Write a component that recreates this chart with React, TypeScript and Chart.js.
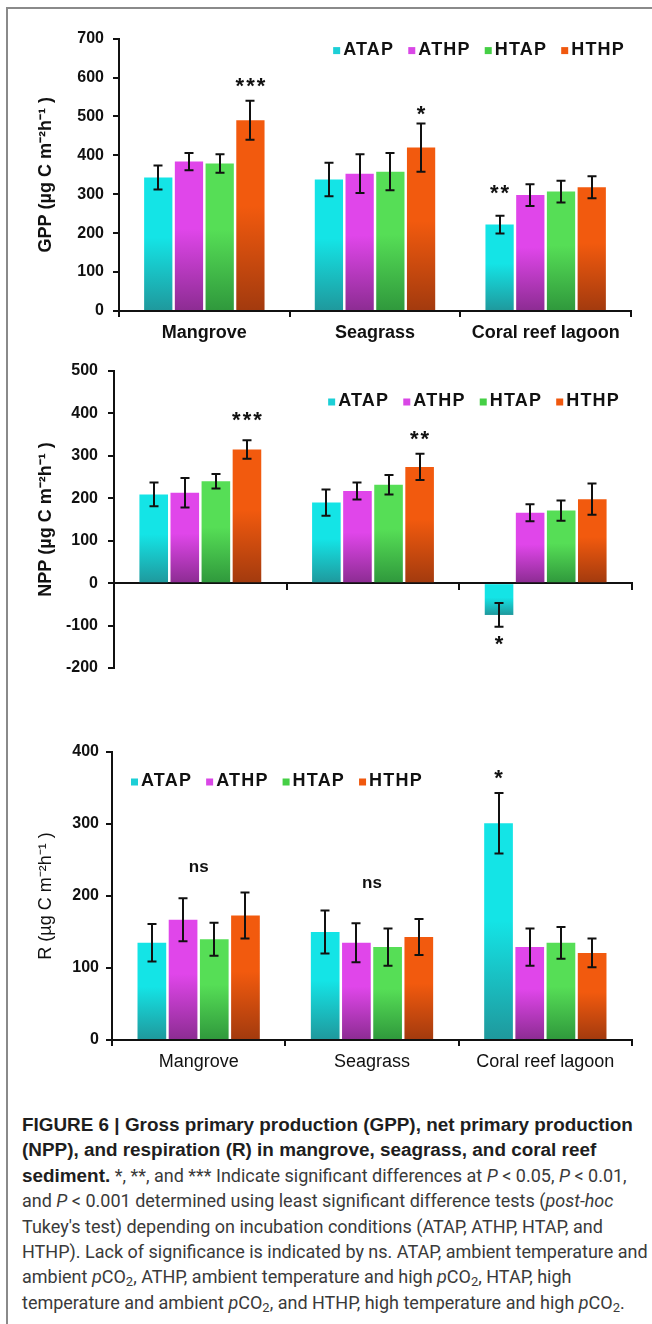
import React, { useEffect, useRef } from 'react';
import { Chart, registerables } from 'chart.js';

Chart.register(...registerables);

// ---------------- data ----------------
const categories = ['Mangrove', 'Seagrass', 'Coral reef lagoon'];
const seriesLabels = ['ATAP', 'ATHP', 'HTAP', 'HTHP'];

// GPP
const gppATAP = [343, 338, 222];
const gppATHP = [384, 353, 298];
const gppHTAP = [379, 358, 307];
const gppHTHP = [490, 420, 318];
const gppErrATAP = [31, 43, 23];
const gppErrATHP = [22, 50, 28];
const gppErrHTAP = [24, 48, 28];
const gppErrHTHP = [50, 62, 28];
const gppTicks = [0, 100, 200, 300, 400, 500, 600, 700];
const gppMarks = [
  { category: 0, series: 3, value: 593, text: '***' },
  { category: 1, series: 3, value: 521, text: '*' },
  { category: 2, series: 0, value: 319, text: '**' },
];

// NPP
const nppATAP = [209, 190, -75];
const nppATHP = [213, 217, 166];
const nppHTAP = [240, 232, 171];
const nppHTHP = [315, 274, 198];
const nppErrATAP = [28, 31, 28];
const nppErrATHP = [35, 20, 20];
const nppErrHTAP = [17, 23, 24];
const nppErrHTHP = [22, 31, 37];
const nppTicks = [-200, -100, 0, 100, 200, 300, 400, 500];
const nppMarks = [
  { category: 0, series: 3, value: 398, text: '***' },
  { category: 1, series: 3, value: 354, text: '**' },
  { category: 2, series: 0, value: -130, text: '*' },
];

// R
const rATAP = [135, 150, 301];
const rATHP = [167, 135, 129];
const rHTAP = [140, 129, 135];
const rHTHP = [173, 143, 121];
const rErrATAP = [26, 30, 42];
const rErrATHP = [30, 27, 26];
const rErrHTAP = [23, 26, 22];
const rErrHTHP = [32, 25, 20];
const rTicks = [0, 100, 200, 300, 400];
const rMarks = [
  { category: 0, series: null, value: 239, text: 'ns' },
  { category: 1, series: null, value: 217, text: 'ns' },
  { category: 2, series: 0, value: 372, text: '*' },
];

// ---------------- styles ----------------
const FONT = "'Liberation Sans', Arial, Helvetica, sans-serif";
const INK = '#111111';
const bright = ['#14e4e6', '#e046ea', '#56de56', '#f25a0e'];
const dark = ['#1f989c', '#8c2c92', '#2f983c', '#a23a0e'];
const swatch = ['#1ccfd6', '#d947e6', '#45cf45', '#f0580e'];

function barFill(i: number) {
  return (c: any) => {
    const chart = c.chart;
    const ys = chart.scales && chart.scales.y;
    if (!ys || c.type !== 'data' || !c.parsed) return bright[i];
    const p0 = ys.getPixelForValue(0);
    const p1 = ys.getPixelForValue(c.parsed.y);
    const top = Math.min(p0, p1);
    const bot = Math.max(p0, p1);
    if (!isFinite(top) || !isFinite(bot) || bot - top < 1) return bright[i];
    const g = chart.ctx.createLinearGradient(0, top, 0, bot);
    g.addColorStop(0, bright[i]);
    g.addColorStop(0.45, bright[i]);
    g.addColorStop(1, dark[i]);
    return g;
  };
}

// ---------------- plugins ----------------
const errorBarPlugin = {
  id: 'errorBars',
  afterDatasetsDraw(chart: any, _a: any, opts: any) {
    const { ctx } = chart;
    const ys = chart.scales.y;
    ctx.save();
    ctx.strokeStyle = opts.color;
    ctx.lineWidth = opts.width;
    chart.data.datasets.forEach((ds: any, di: number) => {
      const meta = chart.getDatasetMeta(di);
      meta.data.forEach((el: any, i: number) => {
        const v = ds.data[i];
        const e = ds.errors[i];
        const yHi = ys.getPixelForValue(v + e);
        const yLo = ys.getPixelForValue(v - e);
        const x = Math.round(el.x);
        ctx.beginPath();
        ctx.moveTo(x, yHi);
        ctx.lineTo(x, yLo);
        ctx.moveTo(x - opts.cap, yHi);
        ctx.lineTo(x + opts.cap, yHi);
        ctx.moveTo(x - opts.cap, yLo);
        ctx.lineTo(x + opts.cap, yLo);
        ctx.stroke();
      });
    });
    ctx.restore();
  },
};

const marksPlugin = {
  id: 'sigMarks',
  afterDatasetsDraw(chart: any, _a: any, opts: any) {
    const { ctx } = chart;
    const ys = chart.scales.y;
    ctx.save();
    ctx.fillStyle = INK;
    ctx.textAlign = 'center';
    ctx.textBaseline = 'alphabetic';
    (opts.marks || []).forEach((m: any) => {
      const isStar = m.text.indexOf('*') >= 0;
      const size = isStar ? opts.starSize : opts.textSize;
      ctx.font = `bold ${size}px ${FONT}`;
      (ctx as any).letterSpacing = isStar ? '2px' : '0px';
      const x =
        m.series == null
          ? chart.scales.x.getPixelForValue(m.category)
          : chart.getDatasetMeta(m.series).data[m.category].x;
      const py = ys.getPixelForValue(m.value);
      const off = isStar ? 0.58 * size : 0.26 * size;
      ctx.fillText(m.text, x + (isStar ? 1 : 0), py + off);
    });
    (ctx as any).letterSpacing = '0px';
    ctx.restore();
  },
};

const boxLegendPlugin = {
  id: 'boxLegend',
  afterDraw(chart: any, _a: any, opts: any) {
    const { ctx, chartArea } = chart;
    ctx.save();
    ctx.font = `bold 18px ${FONT}`;
    (ctx as any).letterSpacing = '1.2px';
    ctx.textBaseline = 'middle';
    ctx.textAlign = 'left';
    const sq = 7;
    const gapSq = 3;
    const gapItem = 14;
    const items = chart.data.datasets.map((d: any, i: number) => ({ text: d.label, color: swatch[i] }));
    const widths = items.map((it: any) => sq + gapSq + ctx.measureText(it.text).width);
    const total = widths.reduce((a: number, b: number) => a + b, 0) + gapItem * (items.length - 1);
    let x = opts.align === 'right' ? chartArea.right - opts.dx - total : chartArea.left + opts.dx;
    const y = chartArea.top + opts.dy;
    items.forEach((it: any, i: number) => {
      ctx.fillStyle = it.color;
      ctx.fillRect(x, y - sq / 2 + 1, sq, sq);
      ctx.fillStyle = INK;
      ctx.fillText(it.text, x + sq + gapSq, y);
      x += widths[i] + gapItem;
    });
    (ctx as any).letterSpacing = '0px';
    ctx.restore();
  },
};

// ---------------- panel configs ----------------
function makeConfig(p: any) {
  const datasets = p.values.map((vals: number[], i: number) => ({
    label: seriesLabels[i],
    data: vals,
    errors: p.errors[i],
    backgroundColor: barFill(i),
    borderWidth: 0,
    categoryPercentage: 0.72,
    barPercentage: 0.92,
  }));
  const ticks = p.ticks as number[];
  return {
    type: 'bar',
    data: { labels: categories, datasets },
    plugins: [errorBarPlugin, marksPlugin, boxLegendPlugin],
    options: {
      animation: false,
      responsive: false,
      maintainAspectRatio: false,
      layout: { padding: p.padding },
      plugins: {
        legend: { display: false },
        tooltip: { enabled: false },
        errorBars: { color: INK, width: 2, cap: 4.5 },
        sigMarks: { marks: p.marks, starSize: 22, textSize: 17 },
        boxLegend: p.legend,
      },
      scales: {
        x: {
          type: 'category',
          position: p.xAtZero ? { y: 0 } : 'bottom',
          offset: true,
          grid: {
            display: true,
            offset: true,
            drawOnChartArea: false,
            drawTicks: true,
            tickLength: 6,
            lineWidth: 2,
            color: INK,
          },
          border: { display: true, color: INK, width: 2 },
          ticks: {
            display: p.showXLabels,
            color: INK,
            padding: 5,
            maxRotation: 0,
            autoSkip: false,
            font: { family: FONT, size: 18, weight: p.xLabelWeight },
          },
          afterFit: (s: any) => {
            if (!p.xAtZero) s.height = p.xHeight;
          },
        },
        y: {
          min: ticks[0],
          max: ticks[ticks.length - 1],
          grid: {
            display: true,
            drawOnChartArea: false,
            drawTicks: true,
            tickLength: 6,
            lineWidth: 2,
            color: INK,
          },
          border: { display: true, color: INK, width: 2 },
          ticks: {
            stepSize: ticks[1] - ticks[0],
            color: INK,
            padding: p.tickPad,
            font: { family: FONT, size: 16, weight: 'bold' },
          },
          title: {
            display: true,
            text: p.title,
            color: INK,
            padding: { top: 35, bottom: 0 },
            font: { family: FONT, size: 18, weight: p.titleWeight },
          },
          afterFit: (s: any) => {
            s.width = p.yWidth;
          },
        },
      },
    },
  };
}

const panels = [
  {
    top: 20,
    height: 330,
    values: [gppATAP, gppATHP, gppHTAP, gppHTHP],
    errors: [gppErrATAP, gppErrATHP, gppErrHTAP, gppErrHTHP],
    ticks: gppTicks,
    marks: gppMarks,
    title: 'GPP (µg C m⁻²h⁻¹ )',
    titleWeight: 'bold',
    xLabelWeight: 'bold',
    showXLabels: true,
    xAtZero: false,
    xHeight: 39,
    yWidth: 119,
    tickPad: 9,
    padding: { top: 17, right: 21, bottom: 0, left: 0 },
    legend: { align: 'right', dx: 6, dy: 11 },
  },
  {
    top: 350,
    height: 340,
    values: [nppATAP, nppATHP, nppHTAP, nppHTHP],
    errors: [nppErrATAP, nppErrATHP, nppErrHTAP, nppErrHTHP],
    ticks: nppTicks,
    marks: nppMarks,
    title: 'NPP (µg C m⁻²h⁻¹ )',
    titleWeight: 'bold',
    xLabelWeight: 'bold',
    showXLabels: false,
    xAtZero: true,
    xHeight: 0,
    yWidth: 114,
    tickPad: 10,
    padding: { top: 21, right: 20, bottom: 22, left: 0 },
    legend: { align: 'right', dx: 12, dy: 30 },
  },
  {
    top: 720,
    height: 370,
    values: [rATAP, rATHP, rHTAP, rHTHP],
    errors: [rErrATAP, rErrATHP, rErrHTAP, rErrHTHP],
    ticks: rTicks,
    marks: rMarks,
    title: 'R (µg C m⁻²h⁻¹ )',
    titleWeight: 'normal',
    xLabelWeight: 'normal',
    showXLabels: true,
    xAtZero: false,
    xHeight: 50,
    yWidth: 112,
    tickPad: 7,
    padding: { top: 32, right: 20, bottom: 0, left: 0 },
    legend: { align: 'left', dx: 19, dy: 29 },
  },
];

function Panel({ p }: { p: any }) {
  const ref = useRef<HTMLCanvasElement | null>(null);
  useEffect(() => {
    if (!ref.current) return;
    const chart = new Chart(ref.current, makeConfig(p) as any);
    return () => chart.destroy();
  }, [p]);
  return (
    <canvas
      ref={ref}
      width={652}
      height={p.height}
      style={{ position: 'absolute', left: 0, top: p.top, width: 652, height: p.height }}
    />
  );
}

const subStyle: React.CSSProperties = { fontSize: 13, verticalAlign: '-3px', lineHeight: 0 };
const boldStyle: React.CSSProperties = {
  fontWeight: 'bold',
  color: '#1e1e1e',
  fontFamily: "'Liberation Sans', Arial, sans-serif",
  fontSize: 18.9,
};

export default function App() {
  return (
    <div
      style={{
        position: 'absolute',
        left: 0,
        top: 0,
        width: 652,
        height: 1324,
        overflow: 'hidden',
        background: '#ffffff',
      }}
    >
      <div
        style={{
          position: 'absolute',
          left: 6,
          top: 7,
          width: 700,
          height: 1400,
          border: '2px solid #8a8a8a',
        }}
      />
      {panels.map((p, i) => (
        <Panel key={i} p={p} />
      ))}
      <div
        style={{
          position: 'absolute',
          left: 22,
          top: 1112,
          fontFamily: "Roboto, 'Liberation Sans', Arial, sans-serif",
          fontSize: 18,
          lineHeight: '25.4px',
          color: '#3a3a3a',
          whiteSpace: 'nowrap',
        }}
      >
        <div style={boldStyle}>FIGURE 6 | Gross primary production (GPP), net primary production</div>
        <div style={boldStyle}>(NPP), and respiration (R) in mangrove, seagrass, and coral reef</div>
        <div>
          <span style={boldStyle}>sediment.</span> *, **, and *** Indicate significant differences at{' '}
          <i>P</i> &lt; 0.05, <i>P</i> &lt; 0.01,
        </div>
        <div>
          and <i>P</i> &lt; 0.001 determined using least significant difference tests (<i>post-hoc</i>
        </div>
        <div>Tukey's test) depending on incubation conditions (ATAP, ATHP, HTAP, and</div>
        <div>HTHP). Lack of significance is indicated by ns. ATAP, ambient temperature and</div>
        <div>
          ambient <i>p</i>CO<sub style={subStyle}>2</sub>, ATHP, ambient temperature and high <i>p</i>CO
          <sub style={subStyle}>2</sub>, HTAP, high
        </div>
        <div>
          temperature and ambient <i>p</i>CO<sub style={subStyle}>2</sub>, and HTHP, high temperature and high{' '}
          <i>p</i>CO<sub style={subStyle}>2</sub>.
        </div>
      </div>
    </div>
  );
}
